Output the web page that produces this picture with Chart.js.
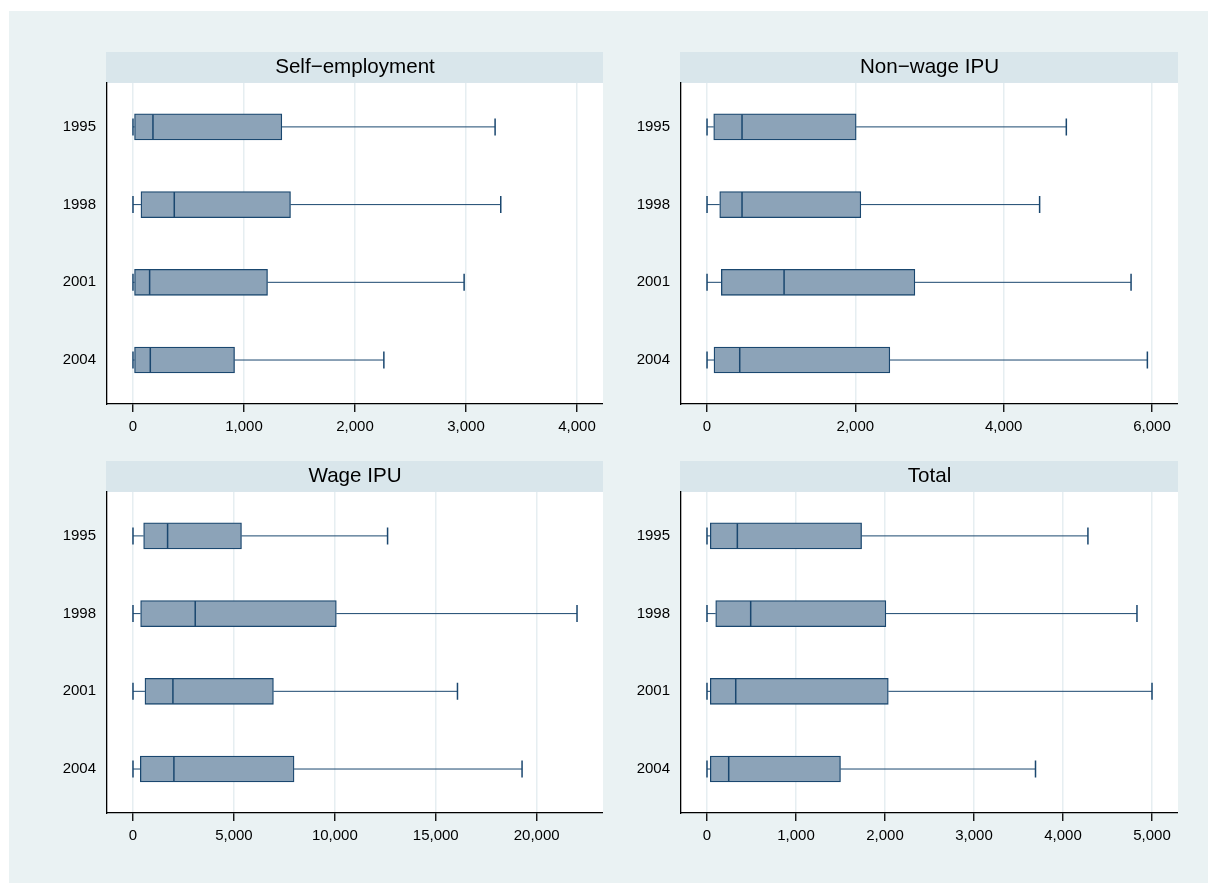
<!DOCTYPE html>
<html>
<head>
<meta charset="utf-8">
<script src="https://cdn.jsdelivr.net/npm/chart.js@4.4.1/dist/chart.umd.min.js"></script>
<style>
  html, body { margin: 0; padding: 0; background: #fff; }
  #page { position: absolute; left: 9px; top: 11px; width: 1199px; height: 872px; background: #eaf2f3; }
  .panel { position: absolute; height: 388px; }
</style>
</head>
<body>
<div id="page"></div>
<div class="panel" style="left:47px;top:52px;width:556px"><canvas id="c0"></canvas></div>
<div class="panel" style="left:621px;top:52px;width:557px"><canvas id="c1"></canvas></div>
<div class="panel" style="left:47px;top:461px;width:556px"><canvas id="c2"></canvas></div>
<div class="panel" style="left:621px;top:461px;width:557px"><canvas id="c3"></canvas></div>
<script>
// box plot values (per year: 1995, 1998, 2001, 2004)
const years = ['1995', '1998', '2001', '2004'];

const selfLow = [0, 0, 0, 0];
const selfQ1 = [14, 72, 14, 14];
const selfMed = [180, 372, 150, 156];
const selfQ3 = [1341, 1419, 1212, 915];
const selfHigh = [3262, 3313, 2983, 2260];
const selfTicks = [0, 1000, 2000, 3000, 4000];
const selfRange = [-234, 4234];

const nonwageLow = [0, 0, 0, 0];
const nonwageQ1 = [90, 171, 193, 94];
const nonwageMed = [472, 472, 1039, 441];
const nonwageQ3 = [2011, 2074, 2803, 2465];
const nonwageHigh = [4845, 4485, 5718, 5938];
const nonwageTicks = [0, 2000, 4000, 6000];
const nonwageRange = [-351, 6351];

const wageLow = [0, 0, 0, 0];
const wageQ1 = [528, 379, 594, 363];
const wageMed = [1715, 3084, 1979, 2028];
const wageQ3 = [5376, 10075, 6958, 7980];
const wageHigh = [12614, 22000, 16077, 19277];
const wageTicks = [0, 5000, 10000, 15000, 20000];
const wageRange = [-1287, 23287];

const totalLow = [0, 0, 0, 0];
const totalQ1 = [37, 98, 37, 37];
const totalMed = [341, 491, 323, 244];
const totalQ3 = [1737, 2010, 2037, 1500];
const totalHigh = [4280, 4831, 5000, 3691];
const totalTicks = [0, 1000, 2000, 3000, 4000, 5000];
const totalRange = [-292, 5292];

const NAVY = '#1a476f';
const BOX_FILL = '#8ca3b8';
const STRIP = '#d9e6eb';
const GRID = '#e6eef1';
const FONT = '"Liberation Sans", Arial, Helvetica, sans-serif';

// strip behind the title + white plot region
const panelBackground = {
  id: 'panelBackground',
  beforeDraw(chart) {
    const { ctx, chartArea, titleBlock } = chart;
    ctx.save();
    ctx.fillStyle = '#ffffff';
    ctx.fillRect(chartArea.left, chartArea.top, chartArea.width, chartArea.height);
    ctx.fillStyle = STRIP;
    ctx.fillRect(chartArea.left - 1, titleBlock.top, chartArea.width + 2, titleBlock.height);
    ctx.restore();
  }
};

// whiskers, caps and median lines
const whiskers = {
  id: 'whiskers',
  afterDatasetsDraw(chart) {
    const { ctx, scales: { x, y } } = chart;
    const ds = chart.data.datasets[0];
    ctx.save();
    ctx.strokeStyle = NAVY;
    ds.data.forEach((d, i) => {
      const yc = y.getPixelForValue(d.y);
      const lo = x.getPixelForValue(ds.low[i]);
      const q1 = x.getPixelForValue(d.x[0]);
      const q3 = x.getPixelForValue(d.x[1]);
      const hi = x.getPixelForValue(ds.high[i]);
      const med = x.getPixelForValue(ds.med[i]);

      ctx.lineWidth = 1;
      ctx.beginPath();
      ctx.moveTo(lo, yc); ctx.lineTo(q1, yc);
      ctx.moveTo(q3, yc); ctx.lineTo(hi, yc);
      ctx.stroke();

      ctx.lineWidth = 1.5;
      ctx.beginPath();
      ctx.moveTo(lo, yc - 8.5); ctx.lineTo(lo, yc + 8.5);
      ctx.moveTo(hi, yc - 8.5); ctx.lineTo(hi, yc + 8.5);
      ctx.moveTo(med, yc - 12.5); ctx.lineTo(med, yc + 12.5);
      ctx.stroke();
    });
    ctx.restore();
  }
};

function makePanel(id, title, low, q1, med, q3, high, ticks, range) {
  const ctx = document.getElementById(id).getContext('2d');
  new Chart(ctx, {
    type: 'bar',
    data: {
      datasets: [{
        data: years.map((_, i) => ({ x: [q1[i], q3[i]], y: i })),
        low: low,
        med: med,
        high: high,
        backgroundColor: BOX_FILL,
        borderColor: NAVY,
        borderWidth: 1.3,
        borderSkipped: false,
        barThickness: 26
      }]
    },
    options: {
      indexAxis: 'y',
      responsive: true,
      maintainAspectRatio: false,
      animation: false,
      events: [],
      layout: { padding: 0 },
      plugins: {
        legend: { display: false },
        tooltip: { enabled: false },
        title: {
          display: true,
          text: title,
          fullSize: false,
          color: '#000',
          font: { family: FONT, size: 20.6, weight: 'normal' },
          padding: { top: 3, bottom: 3.2 }
        }
      },
      scales: {
        x: {
          type: 'linear',
          min: range[0],
          max: range[1],
          afterBuildTicks: scale => { scale.ticks = ticks.map(v => ({ value: v })); },
          afterFit: scale => { scale.height = 36; },
          grid: { color: GRID, lineWidth: 1.5, tickColor: '#000', tickLength: 8, tickWidth: 1.3 },
          border: { display: true, color: '#000', width: 1.3 },
          ticks: {
            color: '#000',
            padding: 6,
            maxRotation: 0,
            font: { family: FONT, size: 15 },
            callback: v => v.toLocaleString('en-US')
          }
        },
        y: {
          type: 'linear',
          reverse: true,
          offset: false,
          min: -0.566,
          max: 3.566,
          afterBuildTicks: scale => { scale.ticks = years.map((_, i) => ({ value: i })); },
          afterFit: scale => { scale.width = 60; },
          grid: { display: false, drawTicks: false, offset: false },
          border: { display: true, color: '#000', width: 1.3 },
          ticks: {
            color: '#000',
            padding: 11,
            font: { family: FONT, size: 15 },
            callback: v => years[v]
          }
        }
      }
    },
    plugins: [panelBackground, whiskers]
  });
}

document.addEventListener('DOMContentLoaded', () => {
  makePanel('c0', 'Self\u2212employment', selfLow, selfQ1, selfMed, selfQ3, selfHigh, selfTicks, selfRange);
  makePanel('c1', 'Non\u2212wage IPU', nonwageLow, nonwageQ1, nonwageMed, nonwageQ3, nonwageHigh, nonwageTicks, nonwageRange);
  makePanel('c2', 'Wage IPU', wageLow, wageQ1, wageMed, wageQ3, wageHigh, wageTicks, wageRange);
  makePanel('c3', 'Total', totalLow, totalQ1, totalMed, totalQ3, totalHigh, totalTicks, totalRange);
});
</script>
</body>
</html>
